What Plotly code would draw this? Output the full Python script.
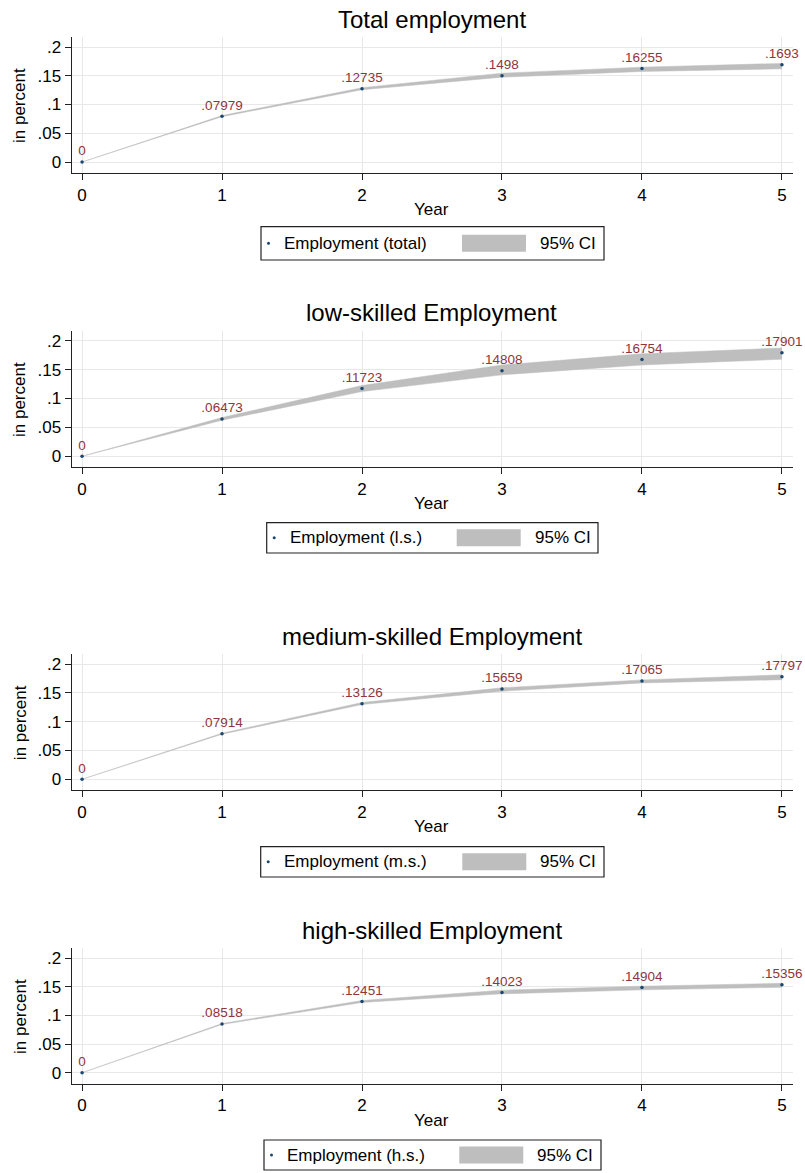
import plotly.graph_objects as go

years = [0, 1, 2, 3, 4, 5]

titles = ["Total employment", "low-skilled Employment",
          "medium-skilled Employment", "high-skilled Employment"]
legend_names = ["Employment (total)", "Employment (l.s.)",
                "Employment (m.s.)", "Employment (h.s.)"]

emp_total = [0, .07979, .12735, .1498, .16255, .1693]
emp_ls = [0, .06473, .11723, .14808, .16754, .17901]
emp_ms = [0, .07914, .13126, .15659, .17065, .17797]
emp_hs = [0, .08518, .12451, .14023, .14904, .15356]

lo_total = [0, .0789, .1257, .1475, .1575, .162]
hi_total = [0, .0807, .1292, .1545, .165, .1715]
lo_ls = [0, .0625, .112, .141, .158, .168]
hi_ls = [0, .067, .1225, .158, .1775, .1875]
lo_ms = [0, .0783, .1297, .1528, .1672, .1728]
hi_ms = [0, .0800, .1332, .1588, .1725, .1812]
lo_hs = [0, .0844, .1228, .1378, .1448, .1493]
hi_hs = [0, .0860, .1262, .1442, .1512, .1562]

yticks = [0, .05, .1, .15, .2]
ytick_labels = ["0", ".05", ".1", ".15", ".2"]

series = [emp_total, emp_ls, emp_ms, emp_hs]
lows = [lo_total, lo_ls, lo_ms, lo_hs]
highs = [hi_total, hi_ls, hi_ms, hi_hs]

W, H = 805, 1173
FONT = "Liberation Sans"
NAVY = "#1a476f"
MAROON = "#90353b"
BAND = "#bebebe"


def px(x):
    return x / W


def py(y):
    return 1 - y / H


def lab(v):
    s = f"{v:.5g}"
    return s[1:] if s.startswith("0.") else s


# plot area tops/bottoms in pixels
tops = [37, 330.7, 654, 948.3]
bottoms = [173, 467.3, 790.3, 1083.7]
# legend boxes: (left, right, top, bottom, swatch_left)
legends = [
    (261, 604, 226.7, 260, 462),
    (266.7, 598, 522.7, 553, 456.7),
    (260.7, 604, 846.7, 877, 462.3),
    (264, 601, 1140, 1170, 459.3),
]

fig = go.Figure()
shapes = []
annotations = []

for i in range(4):
    xa = "x" if i == 0 else f"x{i+1}"
    ya = "y" if i == 0 else f"y{i+1}"
    fig.add_trace(go.Scatter(x=years, y=lows[i], mode="lines",
                             line=dict(color=BAND, width=0.5),
                             xaxis=xa, yaxis=ya, showlegend=False,
                             hoverinfo="skip"))
    fig.add_trace(go.Scatter(x=years, y=highs[i], mode="lines",
                             line=dict(color=BAND, width=0.5),
                             fill="tonexty", fillcolor=BAND,
                             xaxis=xa, yaxis=ya, showlegend=False,
                             hoverinfo="skip"))
    fig.add_trace(go.Scatter(x=years, y=series[i], mode="markers+text",
                             marker=dict(color=NAVY, size=3.5),
                             text=[lab(v) for v in series[i]],
                             textposition="top center",
                             textfont=dict(family=FONT, size=13.5, color=MAROON),
                             xaxis=xa, yaxis=ya, showlegend=False,
                             cliponaxis=False))

    axkey = "xaxis" if i == 0 else f"xaxis{i+1}"
    aykey = "yaxis" if i == 0 else f"yaxis{i+1}"
    fig.layout[axkey] = dict(
        domain=[px(71.7), px(793)], anchor=ya,
        range=[-0.074, 5.079], tickvals=years,
        showline=True, linecolor="#222", linewidth=1.3,
        ticks="outside", ticklen=6, tickcolor="#222",
        showgrid=True, gridcolor="#e8e8e8", gridwidth=1,
        zeroline=False, tickfont=dict(family=FONT, size=17, color="black"),
        fixedrange=True,
    )
    fig.layout[aykey] = dict(
        domain=[py(bottoms[i]), py(tops[i])], anchor=xa,
        range=[-0.0191, 0.2174], tickvals=yticks, ticktext=ytick_labels,
        showline=True, linecolor="#222", linewidth=1.3,
        ticks="outside", ticklen=6, tickcolor="#222",
        showgrid=True, gridcolor="#e8e8e8", gridwidth=1,
        zeroline=False, tickfont=dict(family=FONT, size=17, color="black"),
        fixedrange=True,
    )

    annotations.append(dict(text=titles[i], x=px(432), y=py(tops[i] - 18),
                            xref="paper", yref="paper", showarrow=False,
                            xanchor="center", yanchor="middle",
                            font=dict(family=FONT, size=24, color="black")))
    annotations.append(dict(text="Year", x=px(432), y=py(bottoms[i] + 36.3),
                            xref="paper", yref="paper", showarrow=False,
                            xanchor="center", yanchor="middle",
                            font=dict(family=FONT, size=17, color="black")))
    annotations.append(dict(text="in percent", x=px(20),
                            y=py((tops[i] + bottoms[i]) / 2 + 1),
                            xref="paper", yref="paper", showarrow=False,
                            textangle=-90, xanchor="center", yanchor="middle",
                            font=dict(family=FONT, size=17, color="black")))

    # legend box drawn by hand (Stata style)
    l, r, t, b, sw = legends[i]
    cy = (t + b) / 2
    shapes.append(dict(type="rect", xref="paper", yref="paper",
                       x0=px(l), x1=px(r), y0=py(b), y1=py(t),
                       line=dict(color="#222", width=1.2), fillcolor="white"))
    shapes.append(dict(type="rect", xref="paper", yref="paper",
                       x0=px(sw), x1=px(sw + 64), y0=py(cy + 8.5), y1=py(cy - 8.5),
                       line=dict(width=0), fillcolor=BAND))
    shapes.append(dict(type="circle", xref="paper", yref="paper",
                       x0=px(l + 6), x1=px(l + 9), y0=py(cy + 1.5), y1=py(cy - 1.5),
                       line=dict(width=0), fillcolor=NAVY))
    annotations.append(dict(text=legend_names[i], x=px(l + 21), y=py(cy),
                            xref="paper", yref="paper", showarrow=False,
                            xanchor="left", yanchor="middle",
                            font=dict(family=FONT, size=17, color="black")))
    annotations.append(dict(text="95% CI", x=px(sw + 76), y=py(cy),
                            xref="paper", yref="paper", showarrow=False,
                            xanchor="left", yanchor="middle",
                            font=dict(family=FONT, size=17, color="black")))

fig.update_layout(
    width=W, height=H,
    margin=dict(l=0, r=0, t=0, b=0),
    paper_bgcolor="white", plot_bgcolor="white",
    shapes=shapes, annotations=annotations,
    showlegend=False,
)

# drop the default page margin so the figure fills the window
fig.write_html("out.html", config={"displayModeBar": False},
               post_script="document.body.style.margin='0';document.body.style.overflow='hidden';")
